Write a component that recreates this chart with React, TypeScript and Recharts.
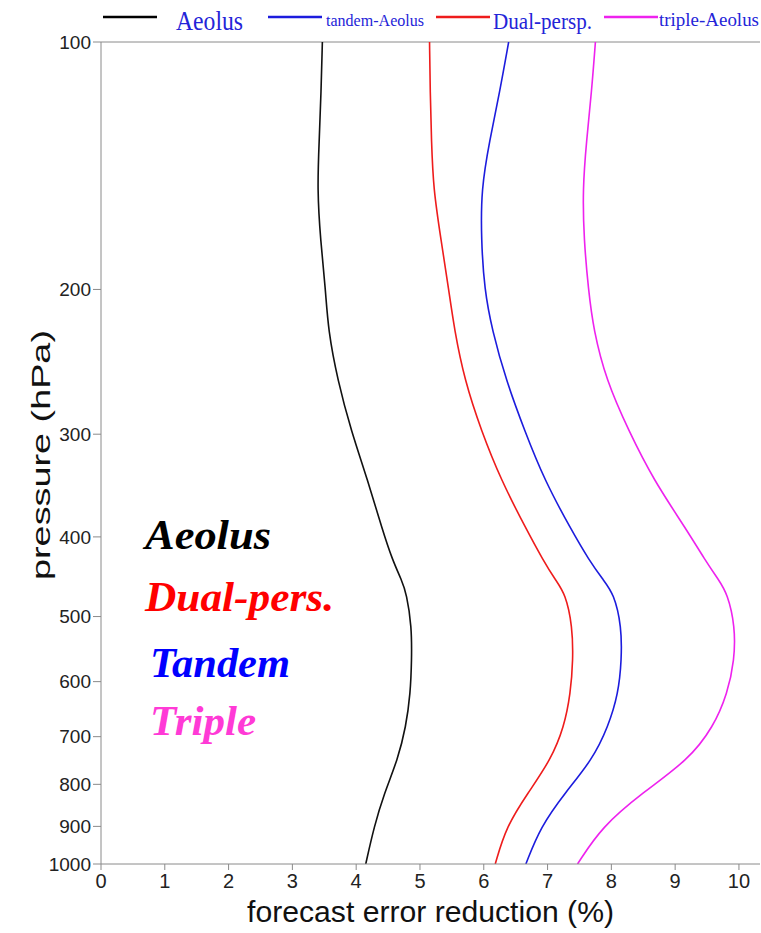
import React from 'react';
import { LineChart, Line, XAxis, YAxis, ReferenceLine, Label } from 'recharts';

// pressure levels (hPa) and forecast error reduction (%)
const pressure = [100, 115, 132, 151, 174, 200, 224, 258, 297, 341, 392, 427, 451, 469, 514, 565, 620, 681, 747, 820, 901, 1000];
const aeolus = [3.47, 3.45, 3.42, 3.39, 3.44, 3.52, 3.56, 3.71, 3.92, 4.18, 4.41, 4.57, 4.71, 4.79, 4.87, 4.87, 4.85, 4.78, 4.65, 4.44, 4.28, 4.15];
const dualPersp = [5.15, 5.16, 5.18, 5.21, 5.33, 5.45, 5.54, 5.7, 5.96, 6.27, 6.67, 6.93, 7.12, 7.28, 7.39, 7.4, 7.36, 7.26, 7.05, 6.69, 6.35, 6.18];
const tandem = [6.39, 6.25, 6.09, 5.96, 5.96, 6.01, 6.13, 6.35, 6.64, 6.95, 7.37, 7.65, 7.87, 8.04, 8.16, 8.16, 8.11, 7.95, 7.7, 7.27, 6.89, 6.66];
const triple = [7.75, 7.69, 7.61, 7.55, 7.57, 7.64, 7.72, 7.92, 8.27, 8.66, 9.18, 9.47, 9.68, 9.82, 9.94, 9.93, 9.82, 9.6, 9.21, 8.48, 7.85, 7.47];

const xTicks = [0, 1, 2, 3, 4, 5, 6, 7, 8, 9, 10];
const pTicks = [100, 200, 300, 400, 500, 600, 700, 800, 900, 1000];

const data = pressure.map((p, i) => ({
  p,
  aeolus: aeolus[i],
  dual: dualPersp[i],
  tandem: tandem[i],
  triple: triple[i],
}));

const sansNarrow = '"Liberation Sans Narrow", "Liberation Sans", Arial, sans-serif';
const sans = '"Liberation Sans", Arial, sans-serif';
const serif = '"Liberation Serif", "Times New Roman", serif';
const axisGrey = '#8a8a8a';
const legendBlue = '#2424d8';

const XTitle = (props: any) => {
  const { x, y, width } = props.viewBox;
  return (
    <text x={x + width / 2} y={y + 58} textAnchor="middle" fontFamily={sans} fontSize={30} fill="#111"
      textLength={367} lengthAdjust="spacingAndGlyphs">
      forecast error reduction (%)
    </text>
  );
};

const YTitle = (props: any) => {
  const { y, height } = props.viewBox;
  const cy = y + height / 2 + 2;
  return (
    <text x={50} y={cy} transform={`rotate(-90, 50, ${cy})`} textAnchor="middle" fontFamily={sans}
      fontSize={25} fill="#111" textLength={250} lengthAdjust="spacingAndGlyphs">
      pressure (hPa)
    </text>
  );
};

const legendItems = [
  { label: 'Aeolus', color: '#000000', x: 103, size: 28, tx: 176, tw: 67, ty: 30 },
  { label: 'tandem-Aeolus', color: '#1c1cdd', x: 268, size: 17, tx: 326, tw: 98, ty: 26 },
  { label: 'Dual-persp.', color: '#ee1c1c', x: 436, size: 24, tx: 493, tw: 99, ty: 29 },
  { label: 'triple-Aeolus', color: '#ee22ee', x: 604, size: 18, tx: 659, tw: 100, ty: 26 },
];

const tags = [
  { label: 'Aeolus', color: '#000000', x: 145, y: 549, w: 126 },
  { label: 'Dual-pers.', color: '#ff0000', x: 145, y: 611, w: 189 },
  { label: 'Tandem', color: '#0000ff', x: 150, y: 677, w: 140 },
  { label: 'Triple', color: '#ff3ad6', x: 150, y: 735, w: 106 },
];

export default function App() {
  return (
    <div style={{ position: 'absolute', left: 0, top: 0, width: 761, height: 933, background: '#fff' }}>
      <LineChart width={761} height={933} data={data} layout="vertical"
        margin={{ top: 42, right: 1, bottom: 0, left: 0 }}>
        <XAxis type="number" domain={[0, 10.33]} ticks={xTicks} allowDataOverflow interval={0}
          height={69} tickSize={6} tickMargin={4} stroke={axisGrey}
          tick={{ fill: '#222', fontSize: 20, fontFamily: sansNarrow }}>
          <Label content={XTitle} />
        </XAxis>
        <YAxis type="number" dataKey="p" scale="log" domain={[100, 1000]} ticks={pTicks}
          allowDataOverflow interval={0} width={101} tickSize={8} tickMargin={2} stroke={axisGrey}
          tick={{ fill: '#222', fontSize: 19, fontFamily: sansNarrow }}>
          <Label content={YTitle} />
        </YAxis>
        <ReferenceLine y={100} stroke={axisGrey} />
        <Line dataKey="aeolus" type="basis" stroke="#111111" strokeWidth={1.6} dot={false} isAnimationActive={false} />
        <Line dataKey="dual" type="basis" stroke="#ee1c1c" strokeWidth={1.6} dot={false} isAnimationActive={false} />
        <Line dataKey="tandem" type="basis" stroke="#1c1cdd" strokeWidth={1.6} dot={false} isAnimationActive={false} />
        <Line dataKey="triple" type="basis" stroke="#ee22ee" strokeWidth={1.6} dot={false} isAnimationActive={false} />
      </LineChart>
      <svg width={761} height={933} style={{ position: 'absolute', left: 0, top: 0, pointerEvents: 'none' }}>
        {legendItems.map(it => (
          <g key={it.label}>
            <line x1={it.x} x2={it.x + 54} y1={17} y2={17} stroke={it.color} strokeWidth={2.5} />
            <text x={it.tx} y={it.ty} fontFamily={serif} fontSize={it.size} fill={legendBlue}
              textLength={it.tw} lengthAdjust="spacingAndGlyphs">{it.label}</text>
          </g>
        ))}
        {tags.map(t => (
          <text key={t.label} x={t.x} y={t.y} fontFamily={serif} fontSize={43} fontWeight="bold"
            fontStyle="italic" fill={t.color} textLength={t.w} lengthAdjust="spacingAndGlyphs">{t.label}</text>
        ))}
      </svg>
    </div>
  );
}
